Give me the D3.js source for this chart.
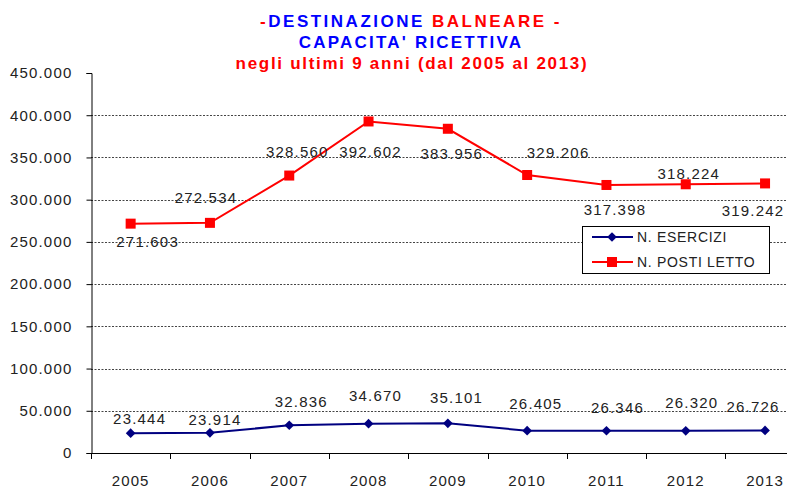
<!DOCTYPE html>
<html><head><meta charset="utf-8">
<script src="https://cdn.jsdelivr.net/npm/d3@7"></script>
<style>
html,body{margin:0;padding:0;background:#fff;overflow:hidden}
text{font-family:"Liberation Sans",Arial,sans-serif}
</style></head>
<body><svg id="c" width="787" height="488"></svg>
<script>
const years = ["2005","2006","2007","2008","2009","2010","2011","2012","2013"];
const esercizi = [23444,23914,32836,34670,35101,26405,26346,26320,26726];
const postiLetto = [271603,272534,328560,392602,383956,329206,317398,318224,319242];
const yTicks = [0,50000,100000,150000,200000,250000,300000,350000,400000,450000];
const seriesNames = ["N. ESERCIZI","N. POSTI LETTO"];
// label offsets (dx, dy of text centre from point), as in the original layout
const postiLabelOffset = [[17,18],[-4,-25],[8,-24],[2,30.5],[4,25],[31,-22],[8.5,25],[3,-11],[-12,27]];
const eserciziLabelOffset = [[9,-15],[5,-13.5],[12,-23.6],[7,-27.7],[8.7,-26],[8.7,-27],[11,-23],[6,-28],[-12,-24]];

const svg = d3.select("#c");
const mLeft = 91, mTop = 73, mBottom = 453, bandW = 79.3;
const x = d3.scaleBand().domain(years).range([mLeft, mLeft + bandW*years.length]).padding(0);
const y = d3.scaleLinear().domain([0,450000]).range([mBottom, mTop]);
const fmt = v => d3.format(",")(v).replace(/,/g,".");

svg.append("rect").attr("width",787).attr("height",488).attr("fill","#fff");

// title
const t = svg.append("g").attr("font-weight","bold").attr("font-size",17).attr("text-anchor","middle");
const l1 = t.append("text").attr("x",411).attr("y",27).attr("letter-spacing",2.5);
l1.append("tspan").attr("fill","#ff0000").text("-");
l1.append("tspan").attr("fill","#0000ff").text("DESTINAZIONE ");
l1.append("tspan").attr("fill","#ff0000").text("BALNEARE -");
t.append("text").attr("x",411).attr("y",48).attr("letter-spacing",2.2).attr("fill","#0000ff").text("CAPACITA' RICETTIVA");
t.append("text").attr("x",412).attr("y",69).attr("letter-spacing",1.7).attr("fill","#ff0000").text("negli ultimi 9 anni (dal 2005 al 2013)");

// gridlines
svg.append("g").selectAll("line").data(yTicks.filter(v => v>0 && v<450000)).join("line")
  .attr("x1",mLeft).attr("x2",787).attr("y1",d=>Math.round(y(d))+0.5).attr("y2",d=>Math.round(y(d))+0.5)
  .attr("stroke","#444").attr("stroke-width",1).attr("stroke-dasharray","2,1.5");

// y axis
const ya = svg.append("g").attr("transform",`translate(${mLeft+0.5},0)`)
  .call(d3.axisLeft(y).tickValues(yTicks).tickFormat(fmt).tickSize(5).tickPadding(14));
ya.select(".domain").attr("stroke","#000");
ya.selectAll(".tick line").attr("stroke","#000");
ya.selectAll("text").attr("font-size",15).attr("fill","#222").attr("letter-spacing",1.2)
  .attr("font-family","Liberation Sans, Arial, sans-serif");

// x axis
const xa = svg.append("g").attr("transform",`translate(0,${mBottom+0.5})`)
  .call(d3.axisBottom(x).tickSize(0).tickPadding(22));
xa.select(".domain").attr("stroke","#000").attr("d",`M${mLeft},0H${mLeft+bandW*years.length}`);
xa.selectAll("text").attr("font-size",15).attr("fill","#222").attr("letter-spacing",1.1)
  .attr("font-family","Liberation Sans, Arial, sans-serif");
svg.append("g").selectAll("line").data(years).join("line")
  .attr("x1",d=>Math.round(x(d))+0.5).attr("x2",d=>Math.round(x(d))+0.5)
  .attr("y1",mBottom).attr("y2",mBottom+6).attr("stroke","#000");

const cx = d => x(d) + x.bandwidth()/2;

// lines
const line = d3.line().x(d=>cx(d.year)).y(d=>y(d.v));
const blueData = years.map((yr,i)=>({year:yr,v:esercizi[i]}));
const redData = years.map((yr,i)=>({year:yr,v:postiLetto[i]}));
svg.append("path").datum(blueData).attr("d",line).attr("fill","none").attr("stroke","#000080").attr("stroke-width",2);
svg.append("path").datum(redData).attr("d",line).attr("fill","none").attr("stroke","#ff0000").attr("stroke-width",2);

const diamond = d3.symbol().type(d3.symbolDiamond2).size(60);
svg.append("g").selectAll("path").data(blueData).join("path")
  .attr("d",diamond).attr("transform",d=>`translate(${cx(d.year)},${y(d.v)})`).attr("fill","#000080");
svg.append("g").selectAll("rect").data(redData).join("rect")
  .attr("x",d=>cx(d.year)-5).attr("y",d=>y(d.v)-5).attr("width",10).attr("height",10).attr("fill","#ff0000");

// data labels
function labels(data, off){
  svg.append("g").selectAll("text").data(data).join("text")
    .attr("x",(d,i)=>cx(d.year)+off[i][0]).attr("y",(d,i)=>y(d.v)+off[i][1]+5.3)
    .attr("text-anchor","middle").attr("font-size",15).attr("letter-spacing",1.2).attr("fill","#222")
    .text(d=>fmt(d.v));
}
labels(redData, postiLabelOffset);
labels(blueData, eserciziLabelOffset);

// legend
const lg = svg.append("g");
lg.append("rect").attr("x",582.5).attr("y",226.5).attr("width",187).attr("height",47).attr("fill","#fff").attr("stroke","#000");
const colors = ["#000080","#ff0000"];
seriesNames.forEach((n,i)=>{
  const yy = 237 + i*25;
  lg.append("line").attr("x1",592).attr("x2",633).attr("y1",yy).attr("y2",yy).attr("stroke",colors[i]).attr("stroke-width",2);
  if(i===0) lg.append("path").attr("d",diamond).attr("transform",`translate(612,${yy})`).attr("fill",colors[i]);
  else lg.append("rect").attr("x",607).attr("y",yy-5).attr("width",10).attr("height",10).attr("fill",colors[i]);
  lg.append("text").attr("x",637).attr("y",yy+5).attr("font-size",14).attr("letter-spacing",0.7).attr("fill","#222").text(n);
});
</script></body></html>
